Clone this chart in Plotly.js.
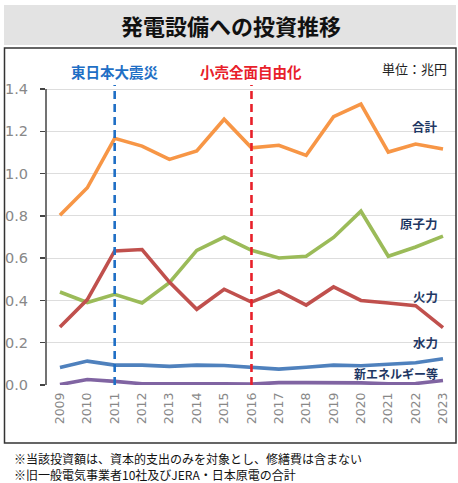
<!DOCTYPE html>
<html><head><meta charset="utf-8">
<script src="https://cdn.plot.ly/plotly-3.0.1.min.js"></script>
<style>html,body{margin:0;padding:0;background:#fff;}#chart{width:458px;height:483px;}</style>
</head><body><div id="chart"></div>
<script>
const years = [2009,2010,2011,2012,2013,2014,2015,2016,2017,2018,2019,2020,2021,2022,2023];
const total   = [0.803,0.933,1.167,1.130,1.067,1.107,1.257,1.122,1.134,1.086,1.269,1.329,1.102,1.140,1.116];
const nuclear = [0.440,0.390,0.429,0.388,0.484,0.637,0.700,0.637,0.601,0.609,0.698,0.822,0.609,0.653,0.704];
const thermal = [0.274,0.404,0.634,0.641,0.487,0.358,0.453,0.392,0.445,0.378,0.464,0.400,0.388,0.375,0.271];
const hydro   = [0.083,0.113,0.094,0.094,0.088,0.094,0.092,0.084,0.075,0.084,0.094,0.091,0.100,0.105,0.124];
const newEnergy = [0.002,0.026,0.017,0.006,0.006,0.007,0.006,0.004,0.011,0.011,0.011,0.010,0.006,0.007,0.021];
const seriesNames = ['合計','原子力','火力','水力','新エネルギー等'];
const yTicks = [0,0.2,0.4,0.6,0.8,1.0,1.2,1.4];
const yTickText = ['0.0','0.2','0.4','0.6','0.8','1.0','1.2','1.4'];
const eventYears = [2011, 2016];
const eventNames = ['東日本大震災','小売全面自由化'];
const chartTitle = '発電設備への投資推移';
const unitLabel = '単位：兆円';
const notes = ['※当該投資額は、資本的支出のみを対象とし、修繕費は含まない','※旧一般電気事業者10社及びJERA・日本原電の合計'];

const W=458,H=483, L=46, R=2, T=85, B=98;
const pw=W-L-R, ph=H-T-B;
const px = x => (x-L)/pw;
const py = y => (H-B-y)/ph;

const colors = ['#F79646','#9BBB59','#C0504D','#4F81BD','#8064A2'];
const data = [total,nuclear,thermal,hydro,newEnergy].map((v,i)=>({
  x: years, y: v, type:'scatter', mode:'lines', name: seriesNames[i],
  line:{color:colors[i], width:3.6}, hoverinfo:'skip'
}));

const jp = '"Noto Sans CJK JP", "Noto Sans", sans-serif';
const labelPos = [[440,126],[440,223],[440,296],[440,342],[440,373]];
const labelSize = [12.5,12.5,12.5,12.5,12];
const annotations = [];
seriesNames.forEach((n,i)=>annotations.push({
  text:'<b>'+n+'</b>', xref:'paper', yref:'paper', x:px(labelPos[i][0]), y:py(labelPos[i][1]),
  xanchor:'right', yanchor:'middle', showarrow:false, font:{family:jp, size:labelSize[i], color:'#1F3864'}
}));
const evColors = ['#1F6FC5','#E8202A'];
eventNames.forEach((n,i)=>annotations.push({
  text:'<b>'+n+'</b>', xref:'x', yref:'paper', x:eventYears[i], y:py(71),
  xanchor:'center', yanchor:'middle', showarrow:false, font:{family:jp, size:14.5, color:evColors[i]}
}));
annotations.push({text:unitLabel, xref:'paper', yref:'paper', x:px(449), y:py(68), xanchor:'right', yanchor:'middle',
  showarrow:false, font:{family:jp, size:13, color:'#222'}});
annotations.push({text:'<b>'+chartTitle+'</b>', xref:'paper', yref:'paper', x:px(230.5), y:py(25), xanchor:'center', yanchor:'middle',
  showarrow:false, font:{family:jp, size:22, color:'#111'}});
annotations.push({text:notes.join('<br>'), xref:'paper', yref:'paper', x:px(12), y:py(466.5), xanchor:'left', yanchor:'middle',
  align:'left', showarrow:false, font:{family:jp, size:12, color:'#111'}});

const shapes = [
  {type:'rect', xref:'paper', yref:'paper', x0:px(4), x1:px(456), y0:py(45), y1:py(5), fillcolor:'#E3E3E3', line:{width:0}, layer:'below'},
  {type:'rect', xref:'paper', yref:'paper', x0:px(4.5), x1:px(456), y0:py(443), y1:py(48), fillcolor:'rgba(0,0,0,0)', line:{width:1.5, color:'#333'}, layer:'above'},
  {type:'line', xref:'paper', yref:'y', x0:0, x1:0, y0:0, y1:1.4, line:{width:1.5, color:'#444'}, layer:'above'}
];
eventYears.forEach((yr,i)=>shapes.push({type:'line', xref:'x', yref:'y', x0:yr, x1:yr, y0:0, y1:1.419,
  line:{color:evColors[i], width:2.6, dash:'8px,5px'}, layer:'above'}));

const layout = {
  width:W, height:H, margin:{l:L, r:R, t:T, b:B, pad:0},
  paper_bgcolor:'#fff', plot_bgcolor:'#fff', showlegend:false,
  xaxis:{range:[2008.49,2023.475], tickvals:years, ticktext:years.map(String), tickangle:-90,
    showgrid:false, zeroline:false, showline:false, ticks:'', ticklabelstandoff:4,
    tickfont:{family:'"DejaVu Sans", Verdana, sans-serif', size:12.5, color:'#888'}},
  yaxis:{range:[0,1.419], tickvals:yTicks, ticktext:yTickText, showgrid:true, gridcolor:'#DDDDDD', gridwidth:1,
    zeroline:false, showline:false, ticks:'outside', ticklen:5, tickcolor:'#444', tickwidth:1.5,
    ticklabelstandoff:9,
    tickfont:{family:'"DejaVu Sans", Verdana, sans-serif', size:14.5, color:'#888'}},
  annotations, shapes
};
Plotly.newPlot('chart', data, layout, {displayModeBar:false, staticPlot:true});
</script></body></html>
